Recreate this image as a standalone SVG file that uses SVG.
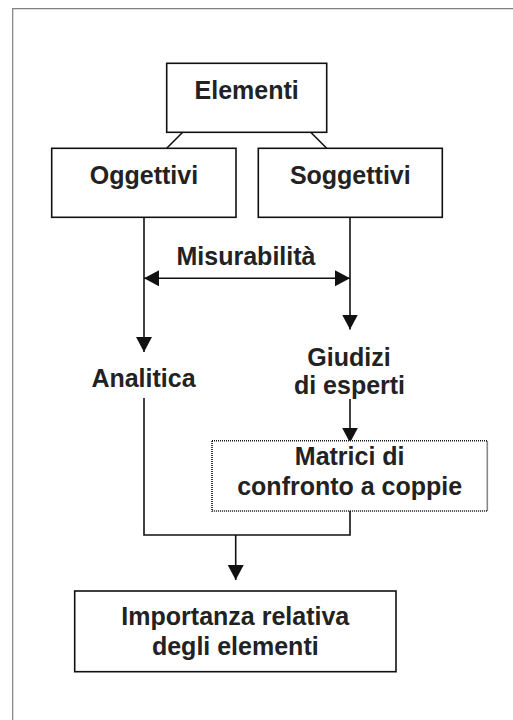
<svg xmlns="http://www.w3.org/2000/svg" width="513" height="720" viewBox="0 0 513 720">
  <style>
    .box { fill: #fff; stroke: #111; stroke-width: 1.6; }
    .dotted { fill: #fff; stroke: #111; stroke-width: 1.6; stroke-dasharray: 1 1; }
    .lbl { font-family: "Liberation Sans", Arial, sans-serif; font-weight: bold; font-size: 25px; fill: #222; text-anchor: middle; }
    .wire { fill: none; stroke: #111; stroke-width: 1.6; }
    .frame { fill: none; stroke: #808080; stroke-width: 1.2; }
  </style>
  <defs>
    <marker id="head" markerUnits="userSpaceOnUse" markerWidth="16" markerHeight="17" refX="15" refY="8" orient="auto-start-reverse">
      <path d="M0,0 L15,8 L0,16 z" fill="#111"/>
    </marker>
  </defs>

  <rect width="513" height="720" fill="#fff"/>
  <path class="frame" d="M12.7,720 V8.6 H513"/>

  <g id="connectors">
    <line class="wire" x1="182.7" y1="132.3" x2="166.7" y2="148.3"/>
    <line class="wire" x1="310.7" y1="132.3" x2="326.7" y2="148.3"/>
    <line class="wire" x1="144" y1="217.3" x2="144" y2="352" marker-end="url(#head)"/>
    <line class="wire" x1="350" y1="217.3" x2="350" y2="329.5" marker-end="url(#head)"/>
    <line class="wire" x1="144" y1="278.3" x2="350" y2="278.3" marker-start="url(#head)" marker-end="url(#head)"/>
    <line class="wire" x1="350" y1="399" x2="350" y2="442.7" marker-end="url(#head)"/>
    <path class="wire" d="M144,398 V535 H350 V511"/>
    <line class="wire" x1="235.7" y1="535" x2="235.7" y2="580" marker-end="url(#head)"/>
    <text class="lbl" x="246" y="265">Misurabilità</text>
  </g>

  <g id="elementi">
    <rect class="box" x="166.7" y="63.3" width="160" height="69"/>
    <text class="lbl" x="246.7" y="99">Elementi</text>
  </g>

  <g id="oggettivi">
    <rect class="box" x="51.7" y="148.3" width="184.3" height="69"/>
    <text class="lbl" x="144" y="184">Oggettivi</text>
  </g>

  <g id="soggettivi">
    <rect class="box" x="258.3" y="148.3" width="184" height="69"/>
    <text class="lbl" x="350.3" y="184">Soggettivi</text>
  </g>

  <g id="analitica">
    <text class="lbl" x="143.5" y="386.5">Analitica</text>
  </g>

  <g id="giudizi">
    <text class="lbl" x="349" y="365.7">Giudizi</text>
    <text class="lbl" x="349.5" y="394">di esperti</text>
  </g>

  <g id="matrici">
    <rect class="dotted" x="212" y="440.7" width="275.3" height="70.3"/>
    <text class="lbl" x="349.7" y="465">Matrici di</text>
    <text class="lbl" x="349.7" y="495">confronto a coppie</text>
  </g>

  <g id="importanza">
    <rect class="box" x="74.7" y="591" width="321.3" height="80.7"/>
    <text class="lbl" x="235.3" y="625">Importanza relativa</text>
    <text class="lbl" x="235.3" y="655">degli elementi</text>
  </g>
</svg>
